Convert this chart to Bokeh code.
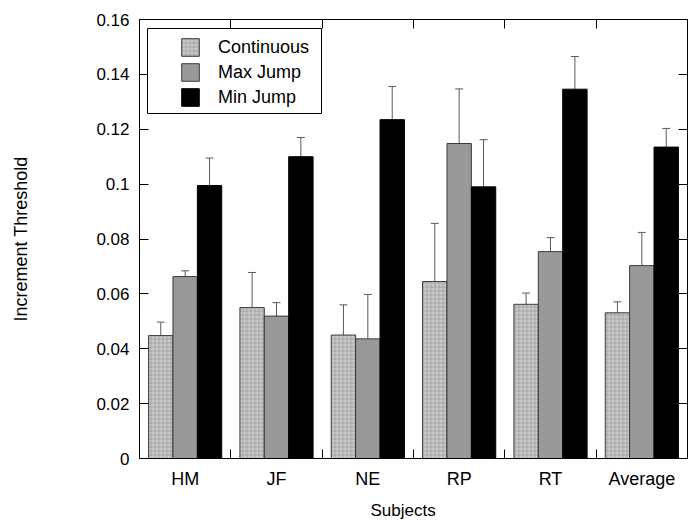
from bokeh.plotting import figure
from bokeh.models import (Range1d, LinearAxis, FixedTicker, CustomJSTickFormatter, Title,
                          ColumnDataSource, Whisker, TeeHead, Legend, LegendItem, BoxAnnotation)
from bokeh.transform import dodge
from bokeh.embed import file_html
from bokeh.resources import INLINE

subjects = ["HM", "JF", "NE", "RP", "RT", "Average"]
series_names = ["Continuous", "Max Jump", "Min Jump"]

continuous = [0.0448, 0.0550, 0.0450, 0.0645, 0.0562, 0.0531]
continuous_err = [0.0049, 0.0128, 0.0110, 0.0212, 0.0041, 0.0040]
max_jump = [0.0663, 0.0519, 0.0436, 0.1148, 0.0754, 0.0703]
max_jump_err = [0.0021, 0.0049, 0.0162, 0.0199, 0.0051, 0.0121]
min_jump = [0.0995, 0.1100, 0.1235, 0.0990, 0.1346, 0.1135]
min_jump_err = [0.0100, 0.0070, 0.0121, 0.0172, 0.0119, 0.0068]

y_ticks = [0, 0.02, 0.04, 0.06, 0.08, 0.10, 0.12, 0.14, 0.16]

FONT = "Liberation Sans"

p = figure(x_range=Range1d(0, len(subjects)), y_range=Range1d(0, 0.16),
           frame_width=548, frame_height=439,
           min_border_left=139, min_border_right=6, min_border_top=19, min_border_bottom=62,
           output_backend="svg", toolbar_location=None, x_axis_location=None, y_axis_location=None)
p.xgrid.visible = False
p.ygrid.visible = False
p.outline_line_color = "black"
p.background_fill_color = "white"

xc = [i + 0.5 for i in range(len(subjects))]
bw = 0.267

specs = [
    (continuous, continuous_err, -bw, dict(fill_color="#c8c8c8", line_color="#3a3a3a",
                                            hatch_pattern="cross", hatch_color="#9a9a9a",
                                            hatch_scale=4, hatch_weight=0.7)),
    (max_jump, max_jump_err, 0.0, dict(fill_color="#999999", line_color="#3a3a3a")),
    (min_jump, min_jump_err, bw, dict(fill_color="black", line_color="black")),
]

renderers = []
for vals, errs, off, style in specs:
    src = ColumnDataSource(dict(x=xc, top=vals,
                                upper=[v + e for v, e in zip(vals, errs)],
                                lower=[v - e for v, e in zip(vals, errs)]))
    r = p.vbar(x=dodge("x", off, range=p.x_range), top="top", bottom=0, width=bw,
               line_width=1, source=src, **style)
    renderers.append(r)
    w = Whisker(base=dodge("x", off, range=p.x_range), upper="upper", lower="lower",
                source=src, line_color="#5a5a5a", line_width=1,
                upper_head=TeeHead(size=8, line_color="#5a5a5a", line_width=1),
                lower_head=TeeHead(size=8, line_color="#5a5a5a", line_width=1))
    p.add_layout(w)

def style_axis(ax):
    ax.axis_line_color = "black"
    ax.major_tick_line_color = "black"
    ax.major_tick_in = 9
    ax.major_tick_out = 0
    ax.minor_tick_in = 0
    ax.minor_tick_out = 0
    ax.major_label_text_font = FONT
    ax.major_label_text_font_size = "17px"
    ax.major_label_text_color = "black"
    ax.axis_label_text_font = FONT
    ax.axis_label_text_font_size = "18px"
    ax.axis_label_text_font_style = "normal"
    ax.axis_label_text_color = "black"

blank = CustomJSTickFormatter(code="return '';")

# left axis
yl = LinearAxis(ticker=FixedTicker(ticks=y_ticks, minor_ticks=[]),
                formatter=CustomJSTickFormatter(code="return String(Number(tick.toFixed(2)));"),
                axis_label="Increment Threshold")
style_axis(yl)
yl.major_label_standoff = 10
yl.axis_label_standoff = 62
p.add_layout(yl, "left")

# right axis (ticks only)
yr = LinearAxis(ticker=FixedTicker(ticks=y_ticks, minor_ticks=[]), formatter=blank)
style_axis(yr)
yr.major_label_standoff = 0
p.add_layout(yr, "right")

# bottom axis: labels at centres, ticks at group boundaries
bounds = [float(i) for i in range(1, len(subjects))]
xb = LinearAxis(ticker=FixedTicker(ticks=xc, minor_ticks=bounds),
                formatter=CustomJSTickFormatter(args=dict(labels=subjects),
                                                code="return labels[Math.round(tick - 0.5)];"))
style_axis(xb)
xb.major_label_text_font_size = "18px"
xb.major_tick_in = 0
xb.minor_tick_in = 9
xb.minor_tick_line_color = "black"
xb.major_label_standoff = 10
p.add_layout(xb, "below")

xlabel = Title(text="Subjects", align="left", offset=231, standoff=15,
               text_font=FONT, text_font_size="17px", text_font_style="normal",
               text_color="black")
p.add_layout(xlabel, "below")

# top axis (boundary ticks only)
xt = LinearAxis(ticker=FixedTicker(ticks=bounds, minor_ticks=[]), formatter=blank)
style_axis(xt)
xt.major_label_standoff = 0
p.add_layout(xt, "above")

# legend frame
box = BoxAnnotation(left=8, right=182, bottom=345, top=430,
                    left_units="screen", right_units="screen",
                    bottom_units="screen", top_units="screen",
                    fill_color="white", fill_alpha=1.0, line_color="black", line_width=1,
                    line_alpha=1.0)
p.add_layout(box)

items = [LegendItem(label=n, renderers=[r]) for n, r in zip(series_names, renderers)]
legend = Legend(items=items, location=(40, 350), padding=0, spacing=3,
                glyph_width=22, glyph_height=22, label_standoff=17,
                label_text_font=FONT, label_text_font_size="18px", label_text_color="black",
                border_line_color=None, background_fill_alpha=0.0)
p.add_layout(legend)

open("out.html", "w").write(file_html(p, INLINE))
